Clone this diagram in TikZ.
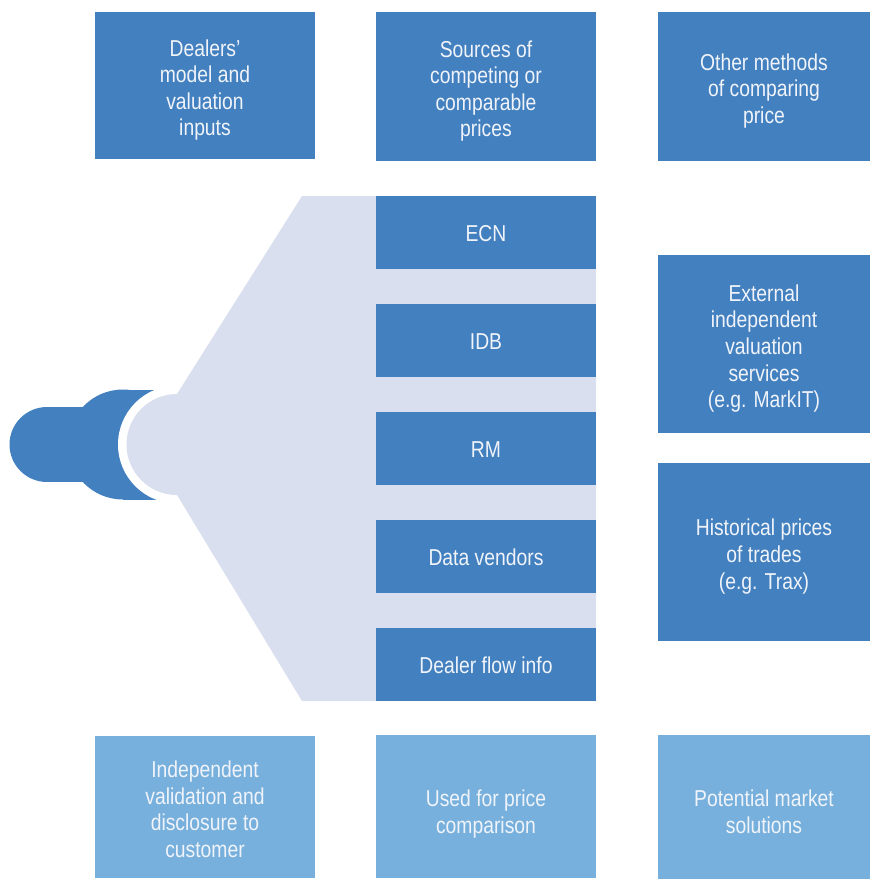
\documentclass[tikz,border=0pt]{standalone}
\usepackage{fontspec}
\setmainfont{Liberation Sans}[FakeStretch=0.84]
\definecolor{darkblue}{HTML}{4380BF}
\definecolor{lightblue}{HTML}{77B0DC}
\definecolor{funnel}{HTML}{D9DFEF}
\definecolor{boxtext}{HTML}{F0F4FA}
\begin{document}
\begin{tikzpicture}[x=1pt,y=-1pt,
  box/.style={rectangle, inner sep=0pt, outer sep=0pt, anchor=north west,
    text=boxtext, align=center, font=\fontsize{23}{26.6}\selectfont,
    text depth=0pt},
  darkbox/.style={box, fill=darkblue},
  lightbox/.style={box, fill=lightblue},
  % text block measured from the first cap line to the last baseline
  lines1/.style={text height=18.8pt},
  lines2/.style={text height=47.4pt},
  lines3/.style={text height=74pt},
  lines4/.style={text height=100.6pt},
  lines5/.style={text height=127.2pt},
  wide/.style={minimum width=220pt},
  narrow/.style={minimum width=212pt}]
\useasboundingbox (0,0) rectangle (870,879);

% plug on the left
\fill[darkblue] (123,444.5) circle[radius=55];
\fill[darkblue] (123,389.5) rectangle (157,499.5);
\fill[darkblue] (47,444.5) circle[radius=37.5];
\fill[darkblue] (47,407) rectangle (100,482);
\fill[white] (177,444.5) circle[radius=59];

% funnel band behind the source boxes
\fill[funnel] (302,196) -- (596,196) -- (596,701) -- (302,701)
  -- (177,495) -- (177,394) -- cycle;
\fill[funnel] (177,444.5) circle[radius=50.5];

% top row
\node[darkbox, lines4, wide, minimum height=147pt] (dealers) at (95,12)
  {Dealers’\\model and\\valuation\\inputs};
\node[darkbox, lines4, wide, minimum height=149pt] (sources) at (376,12)
  {Sources of\\competing or\\comparable\\prices};
\node[darkbox, lines3, narrow, minimum height=149pt] (other) at (658,12)
  {Other methods\\of comparing\\price};

% price sources
\node[darkbox, lines1, wide, minimum height=73pt] (ecn) at (376,196) {ECN};
\node[darkbox, lines1, wide, minimum height=73pt] (idb) at (376,304) {IDB};
\node[darkbox, lines1, wide, minimum height=73pt] (rm) at (376,412) {RM};
\node[darkbox, lines1, wide, minimum height=73pt] (vendors) at (376,520) {Data vendors};
\node[darkbox, lines1, wide, minimum height=73pt] (flow) at (376,628) {Dealer flow info};

% other methods
\node[darkbox, lines5, narrow, minimum height=178pt] (external) at (658,255)
  {External\\independent\\valuation\\services\\(e.g. MarkIT)};
\node[darkbox, lines3, narrow, minimum height=178pt] (historical) at (658,463)
  {Historical prices\\of trades\\(e.g. Trax)};

% bottom row
\node[lightbox, lines4, wide, minimum height=142pt] (validation) at (95,736)
  {Independent\\validation and\\disclosure to\\customer};
\node[lightbox, wide, minimum height=143pt, text height=53pt] (comparison) at (376,735)
  {Used for price\\comparison};
\node[lightbox, narrow, minimum height=144pt, text height=52pt] (solutions) at (658,735)
  {Potential market\\solutions};
\end{tikzpicture}
\end{document}
